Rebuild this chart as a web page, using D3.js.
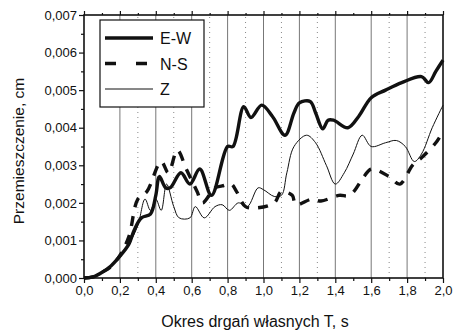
<!DOCTYPE html>
<html lang="pl">
<head>
<meta charset="UTF-8">
<title>Przemieszczenie</title>
<style>
  body { margin: 0; background: #fff; }
  text { font-family: "Liberation Sans", Arial, sans-serif; fill: #111; }
</style>
</head>
<body>
<script src="https://d3js.org/d3.v7.min.js"></script>
<script>
const width = 457, height = 332;
const margin = { left: 84, right: 14, top: 15, bottom: 54 };

// E-W (thick solid)
const ewT = [0, 0.05, 0.1, 0.15, 0.2, 0.25, 0.28, 0.32, 0.37, 0.4, 0.42, 0.455, 0.48, 0.54, 0.59, 0.645, 0.71, 0.8, 0.83, 0.89, 0.93, 0.99, 1.05, 1.12, 1.17, 1.2, 1.26, 1.29, 1.33, 1.36, 1.39, 1.47, 1.53, 1.6, 1.68, 1.77, 1.88, 1.92, 1.96, 2.0];
const ewV = [0, 0.00003, 0.00015, 0.00032, 0.00058, 0.0009, 0.00128, 0.0016, 0.0017, 0.0022, 0.0027, 0.0024, 0.0024, 0.0028, 0.0025, 0.0029, 0.0022, 0.0035, 0.0035, 0.00456, 0.00427, 0.0046, 0.0043, 0.0038, 0.0044, 0.00466, 0.0047, 0.0044, 0.00397, 0.0042, 0.0042, 0.004, 0.0043, 0.0048, 0.005, 0.0052, 0.00536, 0.0052, 0.0055, 0.0058];

// N-S (thick dashed)
const nsT = [0, 0.05, 0.1, 0.15, 0.2, 0.25, 0.3, 0.35, 0.43, 0.47, 0.52, 0.57, 0.63, 0.66, 0.73, 0.77, 0.82, 0.85, 0.9, 0.97, 1.06, 1.1, 1.16, 1.18, 1.27, 1.32, 1.42, 1.48, 1.56, 1.6, 1.7, 1.76, 1.83, 1.88, 1.96, 2.0];
const nsV = [0, 0.00003, 0.00015, 0.0003, 0.0006, 0.0011, 0.0021, 0.0023, 0.0031, 0.0028, 0.0034, 0.0029, 0.0023, 0.002, 0.0024, 0.00245, 0.0025, 0.0023, 0.0019, 0.00187, 0.002, 0.0023, 0.0022, 0.00195, 0.0021, 0.00205, 0.0022, 0.0022, 0.0027, 0.0029, 0.0027, 0.0025, 0.003, 0.0032, 0.0036, 0.0039];

// Z (thin solid)
const zT = [0, 0.05, 0.1, 0.15, 0.2, 0.25, 0.3, 0.34, 0.37, 0.4, 0.43, 0.46, 0.5, 0.53, 0.59, 0.62, 0.67, 0.73, 0.77, 0.81, 0.86, 0.91, 0.97, 1.0, 1.06, 1.1, 1.13, 1.17, 1.24, 1.29, 1.35, 1.4, 1.45, 1.5, 1.55, 1.6, 1.68, 1.74, 1.79, 1.84, 1.88, 1.94, 2.0];
const zV = [0, 0.00003, 0.00015, 0.0003, 0.0006, 0.0009, 0.0014, 0.0021, 0.0018, 0.0021, 0.0018, 0.0025, 0.0019, 0.0016, 0.0016, 0.0019, 0.0016, 0.0019, 0.00195, 0.0018, 0.002, 0.0019, 0.0024, 0.00235, 0.00217, 0.0022, 0.0028, 0.0035, 0.0038, 0.0036, 0.003, 0.0025, 0.0028, 0.0033, 0.0038, 0.0035, 0.0036, 0.00366, 0.0035, 0.0031, 0.0033, 0.004, 0.0046];

const xMajor = [0, 0.2, 0.4, 0.6, 0.8, 1.0, 1.2, 1.4, 1.6, 1.8, 2.0];
const xGridSolid = [0.2, 0.4, 0.6, 0.8, 1.0, 1.2, 1.4, 1.6, 1.8];
const xGridDotted = [0.3, 0.5, 0.7, 0.9, 1.1, 1.3, 1.7, 1.9];
const yMajor = [0, 0.001, 0.002, 0.003, 0.004, 0.005, 0.006, 0.007];

const fmtX = d => d3.format('.1f')(d).replace('.', ',');
const fmtY = d => d3.format('.3f')(d).replace('.', ',');

const svg = d3.select('body').append('svg')
    .attr('width', width).attr('height', height);

const x = d3.scaleLinear().domain([0, 2]).range([margin.left, width - margin.right]);
const y = d3.scaleLinear().domain([0, 0.007]).range([height - margin.bottom, margin.top]);

// grid lines
svg.append('g').selectAll('line').data(xGridSolid).enter().append('line')
    .attr('x1', d => x(d)).attr('x2', d => x(d))
    .attr('y1', y(0)).attr('y2', y(0.007))
    .attr('stroke', '#777').attr('stroke-width', 1);
svg.append('g').selectAll('line').data(xGridDotted).enter().append('line')
    .attr('x1', d => x(d)).attr('x2', d => x(d))
    .attr('y1', y(0)).attr('y2', y(0.007))
    .attr('stroke', '#888').attr('stroke-width', 1)
    .attr('stroke-dasharray', '1,4');

// axes
const xMinor = d3.range(0.1, 2, 0.2);
const yMinor = d3.range(0.0005, 0.007, 0.001);

function styleAxis(g) {
  g.select('.domain').remove();
  g.selectAll('line').attr('stroke', '#111').attr('stroke-width', 1.2);
  g.selectAll('text').style('font-size', '13px');
}

svg.append('g').attr('transform', `translate(0,${y(0)})`)
    .call(d3.axisBottom(x).tickValues(xMajor).tickFormat(fmtX).tickSize(5).tickPadding(3))
    .call(styleAxis);
svg.append('g').attr('transform', `translate(0,${y(0)})`)
    .call(d3.axisBottom(x).tickValues(xMinor).tickFormat('').tickSize(3))
    .call(styleAxis);
svg.append('g').attr('transform', `translate(0,${y(0.007)})`)
    .call(d3.axisTop(x).tickValues(xMajor).tickFormat('').tickSize(4))
    .call(styleAxis);
svg.append('g').attr('transform', `translate(0,${y(0.007)})`)
    .call(d3.axisTop(x).tickValues(xMinor).tickFormat('').tickSize(2))
    .call(styleAxis);
svg.append('g').attr('transform', `translate(${x(0)},0)`)
    .call(d3.axisLeft(y).tickValues(yMajor).tickFormat(fmtY).tickSize(5).tickPadding(2))
    .call(styleAxis);
svg.append('g').attr('transform', `translate(${x(0)},0)`)
    .call(d3.axisLeft(y).tickValues(yMinor).tickFormat('').tickSize(3))
    .call(styleAxis);

// frame
svg.append('rect')
    .attr('x', x(0)).attr('y', y(0.007))
    .attr('width', x(2) - x(0)).attr('height', y(0) - y(0.007))
    .attr('fill', 'none').attr('stroke', '#111').attr('stroke-width', 1.6);

// series
const line = d3.line().x(d => x(d[0])).y(d => y(d[1])).curve(d3.curveCatmullRom.alpha(0.5));
const series = [
  { name: 'E-W', data: d3.zip(ewT, ewV), width: 3.4, dash: null },
  { name: 'N-S', data: d3.zip(nsT, nsV), width: 3.4, dash: '10,9' },
  { name: 'Z', data: d3.zip(zT, zV), width: 1, dash: null }
];

svg.append('g').selectAll('path').data(series).enter().append('path')
    .attr('d', d => line(d.data))
    .attr('fill', 'none')
    .attr('stroke', '#111')
    .attr('stroke-width', d => d.width)
    .attr('stroke-dasharray', d => d.dash)
    .attr('stroke-linejoin', 'round');

// legend
const legend = svg.append('g');
legend.append('rect')
    .attr('x', 100).attr('y', 20).attr('width', 104).attr('height', 87)
    .attr('fill', '#fff').attr('stroke', '#111').attr('stroke-width', 1.2);
const item = legend.selectAll('g.item').data(series).enter().append('g')
    .attr('class', 'item')
    .attr('transform', (d, i) => `translate(0,${38 + i * 25.5})`);
item.append('line')
    .attr('x1', 105).attr('x2', 153).attr('y1', 0).attr('y2', 0)
    .attr('stroke', '#111')
    .attr('stroke-width', d => d.width)
    .attr('stroke-dasharray', d => d.dash ? '11,20' : null);
item.append('text')
    .attr('x', 160).attr('y', 6)
    .style('font-size', '16px')
    .text(d => d.name);

// axis titles
svg.append('text')
    .attr('transform', `translate(24,151) rotate(-90)`)
    .attr('text-anchor', 'middle')
    .style('font-size', '15.5px')
    .text('Przemieszczenie, cm');
svg.append('text')
    .attr('x', 255).attr('y', 327)
    .attr('text-anchor', 'middle')
    .style('font-size', '16px')
    .text('Okres drgań własnych T, s');
</script>
</body>
</html>
